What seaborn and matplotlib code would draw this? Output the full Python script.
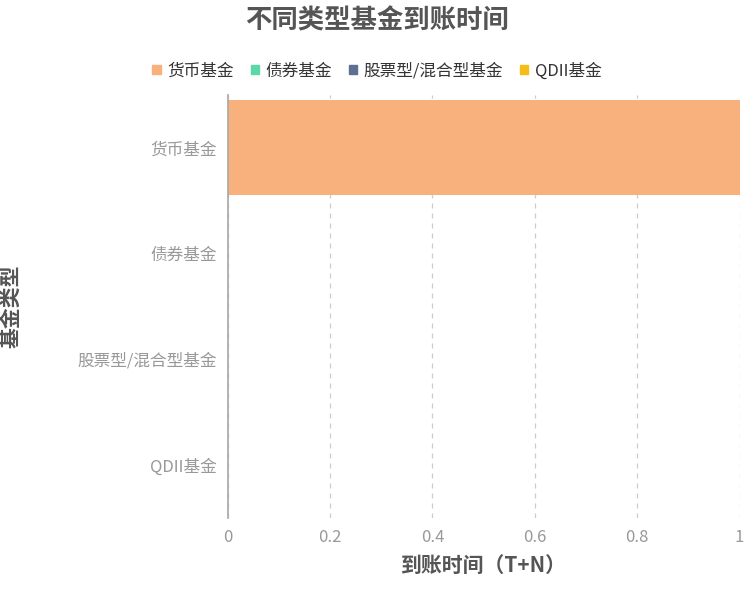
import matplotlib
matplotlib.use("Agg")
import matplotlib.pyplot as plt
import seaborn as sns
import pandas as pd

categories = ["货币基金", "债券基金", "股票型/混合型基金", "QDII基金"]
values = [1, 0, 0, 0]
colors = ["#f8b07c", "#5ad8a6", "#5d7092", "#f6bd16"]

sns.set_theme(style="white")
plt.rcParams['font.family'] = ['Noto Sans CJK SC', 'DejaVu Sans']

df = pd.DataFrame({"cat": categories, "val": values})
fig = plt.figure(figsize=(7.54, 6.01), dpi=100)
ax = fig.add_axes([0.302, 0.138, 0.679, 0.704])
sns.barplot(data=df, y="cat", x="val", hue="cat", palette=colors, order=categories,
            hue_order=categories, width=0.9, dodge=False, legend=False,
            saturation=1, linewidth=0, ax=ax)
ax.set_xlim(0, 1)
ax.set_xticks([0, 0.2, 0.4, 0.6, 0.8, 1])
ax.set_xticklabels(["0", "0.2", "0.4", "0.6", "0.8", "1"])
ax.grid(axis="x", linestyle=(0, (4, 4)), color="#cccccc", linewidth=0.9)
ax.set_axisbelow(True)
for s in ["top", "right", "bottom"]:
    ax.spines[s].set_visible(False)
ax.spines["left"].set_color("#aaaaaa")
ax.tick_params(axis="both", colors="#999999", labelsize=12, length=0, pad=8)
ax.set_xlabel("到账时间（T+N）", fontsize=15, fontweight="bold", color="#555555", labelpad=6)
ax.set_ylabel("基金类型", fontsize=15, fontweight="bold", color="#555555", labelpad=40)

fig.text(0.5, 0.965, "不同类型基金到账时间", ha="center", va="center",
         fontsize=19, fontweight="bold", color="#555555")
handles = [plt.Rectangle((0, 0), 1, 1, color=c) for c in colors]
fig.legend(handles, categories, loc="center", bbox_to_anchor=(0.5, 0.882), ncol=4,
           frameon=False, fontsize=12, handlelength=0.5, handleheight=0.5,
           handletextpad=0.4, columnspacing=1.0, labelcolor="#333333")
fig.savefig("out.png", dpi=100)
